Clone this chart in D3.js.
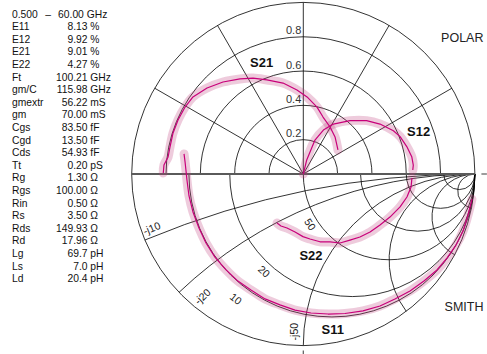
<!DOCTYPE html>
<html>
<head>
<meta charset="utf-8">
<script src="https://cdn.jsdelivr.net/npm/d3@7"></script>
<style>
  html, body { margin: 0; padding: 0; background: #fff; }
  svg text { font-family: "Liberation Sans", Arial, sans-serif; }
</style>
</head>
<body>
<svg id="chart" width="487" height="354"></svg>
<script>
// ---------------- data ----------------
const sweepLabel = ["0.500", "–", "60.00 GHz"];
const paramNames  = ["E11","E12","E21","E22","Ft","gm/C","gmextr","gm","Cgs","Cgd","Cds","Tt","Rg","Rgs","Rin","Rs","Rds","Rd","Lg","Ls","Ld"];
const paramValues = ["8.13","9.92","9.01","4.27","100.21","115.98","56.22","70.00","83.50","13.50","54.93","0.20","1.30","100.00","0.50","3.50","149.93","17.96","69.7","7.0","20.4"];
const paramUnits  = ["%","%","%","%","GHz","GHz","mS","mS","fF","fF","fF","pS","Ω","Ω","Ω","Ω","Ω","Ω","pH","pH","pH"];

const polarRings = [0.2, 0.4, 0.6, 0.8];
const polarSpokes = [30, 60, 90, 120, 150];
const smithR = [0.2, 0.4, 1, 2, 4, 10];        // normalised resistance (Z0 = 50 Ω)
const smithX = [-0.2, -0.4, -1, -2, -4, -10];  // normalised reactance
const rLabels = ["10", "20", "50"];
const xLabels = ["-j10", "-j20", "-j50"];

// traces as [re, im] of reflection / polar plane
const S21 = [[-0.816,0.006],[-0.812,0.052],[-0.788,0.099],[-0.777,0.157],[-0.759,0.239],[-0.730,0.315],[-0.689,0.390],[-0.643,0.449],[-0.561,0.501],[-0.468,0.536],[-0.369,0.554],[-0.293,0.559],[-0.212,0.548],[-0.118,0.530],[-0.037,0.490],[0.022,0.449],[0.080,0.390],[0.115,0.332],[0.156,0.274],[0.185,0.216],[0.202,0.140]];
const S12 = [[0.000,0.000],[0.020,0.082],[0.068,0.198],[0.117,0.256],[0.175,0.291],[0.272,0.311],[0.369,0.311],[0.447,0.291],[0.525,0.252],[0.564,0.218],[0.603,0.160],[0.632,0.101],[0.641,0.052],[0.638,0.023]];
const S22 = [[0.633,-0.023],[0.628,-0.076],[0.604,-0.134],[0.564,-0.192],[0.505,-0.251],[0.447,-0.297],[0.389,-0.338],[0.330,-0.367],[0.272,-0.385],[0.214,-0.402],[0.156,-0.396],[0.097,-0.395],[0.039,-0.379],[-0.002,-0.365],[-0.048,-0.338],[-0.095,-0.315],[-0.130,-0.303],[-0.153,-0.286]];
const S11 = [[0.983,-0.146],[0.960,-0.239],[0.931,-0.332],[0.890,-0.414],[0.837,-0.490],[0.779,-0.559],[0.703,-0.624],[0.622,-0.682],[0.534,-0.728],[0.447,-0.769],[0.348,-0.798],[0.243,-0.813],[0.144,-0.816],[0.045,-0.810],[-0.048,-0.793],[-0.136,-0.763],[-0.223,-0.728],[-0.305,-0.676],[-0.381,-0.624],[-0.450,-0.559],[-0.515,-0.484],[-0.567,-0.402],[-0.608,-0.315],[-0.643,-0.221],[-0.666,-0.128],[-0.678,-0.035],[-0.684,0.023],[-0.689,0.070],[-0.695,0.117]];

// ---------------- layout ----------------
const svg = d3.select("#chart");
const cx = 303.3, cy = 174, R = 171.6;
const x = d3.scaleLinear().domain([-1, 1]).range([cx - R, cx + R]);
const y = d3.scaleLinear().domain([-1, 1]).range([cy + R, cy - R]);
const px = v => x(v) - x(0); // length in px

const grid = svg.append("g").attr("fill", "none").attr("stroke", "#000").attr("stroke-width", 0.8);

// outer circle
grid.append("circle").attr("cx", x(0)).attr("cy", y(0)).attr("r", px(1));

// polar rings (upper half)
polarRings.forEach(m => {
  grid.append("path").attr("d", `M${x(-m)},${y(0)} A${px(m)},${px(m)} 0 0 1 ${x(m)},${y(0)}`);
});
// polar spokes
polarSpokes.forEach(a => {
  const t = a * Math.PI / 180;
  grid.append("line").attr("x1", x(0)).attr("y1", y(0))
    .attr("x2", x(Math.cos(t))).attr("y2", y(Math.sin(t)));
});
// smith resistance circles (lower half)
smithR.forEach(r => {
  const left = (r - 1) / (r + 1);
  const rad = px(1 / (1 + r));
  grid.append("path").attr("d", `M${x(left)},${y(0)} A${rad},${rad} 0 0 0 ${x(1)},${y(0)}`);
});
// smith reactance arcs (lower half)
smithX.forEach(xx => {
  const ex = (xx * xx - 1) / (xx * xx + 1), ey = 2 * xx / (xx * xx + 1);
  const rad = px(1 / Math.abs(xx));
  grid.append("path").attr("d", `M${x(1)},${y(0)} A${rad},${rad} 0 0 0 ${x(ex)},${y(ey)}`);
});

// horizontal axis + ticks
svg.append("line").attr("x1", x(-1)).attr("x2", x(1)).attr("y1", y(0)).attr("y2", y(0))
  .attr("stroke", "#5a5a5a").attr("stroke-width", 1.8);
svg.append("line").attr("x1", x(1) + 6.5).attr("x2", x(1) + 12).attr("y1", y(0)).attr("y2", y(0))
  .attr("stroke", "#5a5a5a").attr("stroke-width", 1.2);
svg.append("line").attr("x1", x(0)).attr("x2", x(0)).attr("y1", y(-1) + 5).attr("y2", y(-1) + 11)
  .attr("stroke", "#5a5a5a").attr("stroke-width", 1.2);

// polar ring labels
polarRings.forEach(m => {
  svg.append("text").attr("x", x(0) - 2).attr("y", y(m) - 2.5)
    .attr("text-anchor", "end").attr("font-size", 11).attr("fill", "#333")
    .text(m.toFixed(1));
});

// smith labels
const rLabelPos = [[-0.393, -0.728, 38], [-0.229, -0.568, 42], [0.039, -0.294, 57]];
rLabels.forEach((t, i) => {
  const [a, b, rot] = rLabelPos[i];
  svg.append("text").attr("transform", `translate(${x(a)},${y(b)}) rotate(${rot})`)
    .attr("text-anchor", "middle").attr("dy", "0.35em").attr("font-size", 10.5).attr("fill", "#222").text(t);
});
const xLabelPos = [[-0.883, -0.316, -22.6], [-0.587, -0.714, -43.6], [-0.055, -0.919, -90]];
xLabels.forEach((t, i) => {
  const [a, b, rot] = xLabelPos[i];
  svg.append("text").attr("transform", `translate(${x(a)},${y(b)}) rotate(${rot})`)
    .attr("text-anchor", "middle").attr("dy", "0.35em").attr("font-size", 10.5).attr("fill", "#222").text(t);
});

// traces
const line = d3.line().x(d => x(d[0])).y(d => y(d[1]));
const smooth = d3.line().x(d => x(d[0])).y(d => y(d[1])).curve(d3.curveCatmullRom);
[S21, S12, S22, S11].forEach(tr => {
  svg.append("path").attr("d", smooth(tr)).attr("fill", "none")
    .attr("stroke", "#c0407f").attr("stroke-opacity", 0.27).attr("stroke-width", 9)
    .attr("stroke-linecap", "round").attr("stroke-linejoin", "round");
});
[S21, S12, S22, S11].forEach(tr => {
  svg.append("path").attr("d", line(tr)).attr("fill", "none")
    .attr("stroke", "#c8007a").attr("stroke-width", 1.2).attr("stroke-linejoin", "round");
});

// trace names
const names = [["S21", -0.243, 0.625], ["S12", 0.672, 0.221], ["S22", 0.045, -0.504], ["S11", 0.172, -0.930]];
names.forEach(([t, a, b]) => {
  svg.append("text").attr("x", x(a)).attr("y", y(b)).attr("text-anchor", "middle")
    .attr("font-size", 13).attr("font-weight", "bold").attr("fill", "#111").text(t);
});

// POLAR / SMITH
svg.append("text").attr("x", 483.5).attr("y", 41.5).attr("text-anchor", "end")
  .attr("font-size", 12.5).attr("fill", "#222").text("POLAR");
svg.append("text").attr("x", 483.5).attr("y", 311).attr("text-anchor", "end")
  .attr("font-size", 12.5).attr("fill", "#222").text("SMITH");

// parameter table
const tbl = svg.append("g").attr("font-size", 10.3).attr("fill", "#111");
const y0 = 17.6, dy = 12.6;
tbl.append("text").attr("x", 12).attr("y", y0).text(sweepLabel[0]);
tbl.append("text").attr("x", 48).attr("y", y0).attr("text-anchor", "middle").text(sweepLabel[1]);
tbl.append("text").attr("x", 107.3).attr("y", y0).attr("text-anchor", "end").text(sweepLabel[2]);
paramNames.forEach((n, i) => {
  const yy = y0 + dy * (i + 1);
  tbl.append("text").attr("x", 12).attr("y", yy).text(n);
  tbl.append("text").attr("x", 87.5).attr("y", yy).attr("text-anchor", "end").text(paramValues[i]);
  tbl.append("text").attr("x", 90.3).attr("y", yy).text(paramUnits[i]);
});
</script>
</body>
</html>
